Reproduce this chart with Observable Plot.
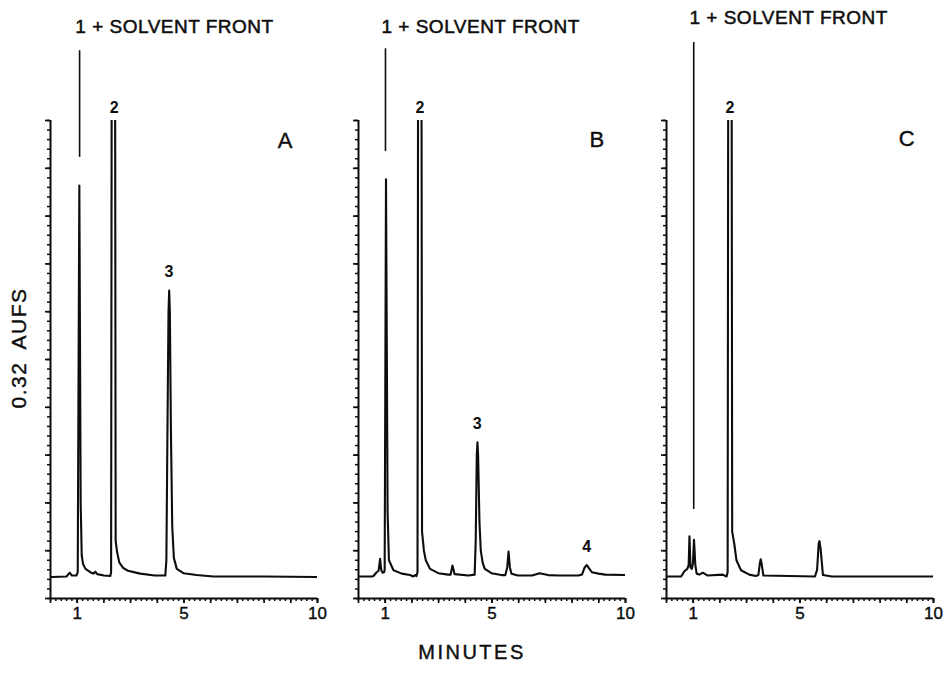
<!DOCTYPE html>
<html>
<head>
<meta charset="utf-8">
<script src="https://cdn.jsdelivr.net/npm/d3@7"></script>
<script src="https://cdn.jsdelivr.net/npm/@observablehq/plot@0.6"></script>
<style>
  html, body { margin: 0; padding: 0; background: #fff; }
  #chart { width: 945px; height: 685px; }
</style>
</head>
<body>
<div id="chart"></div>
<script>
// ---- data (minutes, detector response in % of full scale) ----
const panels = ["A", "B", "C"];

const traceA = [
  [0.05, 4.5], [0.6, 4.6], [0.72, 5.4], [0.8, 4.8], [0.97, 4.8], [1.02, 5.5], [1.08, 86.4],
  [1.13, 20], [1.17, 9], [1.22, 7.2], [1.31, 6.2], [1.49, 5.5], [1.6, 5.2], [1.68, 5.6],
  [1.75, 5.1], [2.0, 4.8], [2.24, 4.7], [2.27, 5.5], [2.355, 420], [2.44, 12], [2.5, 9.5],
  [2.58, 7.5], [2.72, 6.4], [2.9, 5.8], [3.36, 5.2], [3.9, 4.8], [4.30, 4.8], [4.34, 8],
  [4.38, 35], [4.42, 60], [4.445, 64.4], [4.47, 60], [4.51, 35], [4.56, 15], [4.62, 8.5],
  [4.73, 6.2], [4.98, 5.3], [5.47, 4.9], [6.1, 4.6], [8.0, 4.6], [10, 4.5]
];

const traceB = [
  [0.0, 4.6], [0.5, 4.6], [0.56, 4.7], [0.68, 5.5], [0.75, 5.8], [0.81, 8.3], [0.85, 6.0],
  [0.9, 5.4], [0.96, 5.5], [0.98, 6.0], [1.03, 87.7], [1.09, 18], [1.14, 8], [1.31, 5.9],
  [1.62, 5.2], [1.93, 4.9], [2.05, 4.6], [2.12, 4.9], [2.17, 4.7], [2.21, 5.5], [2.295, 420],
  [2.38, 14], [2.45, 10], [2.52, 8], [2.68, 6.2], [2.99, 5.3], [3.36, 5.0], [3.45, 5.0],
  [3.52, 6.9], [3.6, 5.1], [4.12, 4.8], [4.35, 5.0], [4.39, 12], [4.43, 30], [4.455, 32.7],
  [4.48, 30], [4.53, 16], [4.58, 10], [4.65, 7.5], [4.73, 6.2], [4.98, 5.3], [5.35, 4.9],
  [5.5, 4.9], [5.57, 6.5], [5.62, 9.8], [5.67, 6.5], [5.73, 5.2], [5.97, 4.8], [6.5, 4.8],
  [6.78, 5.3], [7.1, 4.9], [7.5, 4.8], [8.24, 4.8], [8.37, 5.0], [8.47, 6.5], [8.55, 7.0],
  [8.65, 6.2], [8.74, 5.5], [8.99, 5.2], [9.24, 5.0], [10, 4.9]
];

const traceC = [
  [0.04, 4.6], [0.55, 4.6], [0.67, 5.7], [0.78, 6.2], [0.83, 7], [0.86, 13], [0.9, 6.5],
  [0.95, 6.2], [0.99, 7.3], [1.03, 12.3], [1.08, 7], [1.13, 5.2], [1.23, 5.0], [1.36, 5.4],
  [1.54, 4.8], [2.1, 5.0], [2.25, 4.6], [2.29, 5.5], [2.375, 420], [2.46, 14], [2.54, 11.4],
  [2.62, 8], [2.79, 5.9], [3.1, 5.0], [3.35, 4.7], [3.44, 4.9], [3.5, 7.5], [3.53, 8.2],
  [3.57, 7], [3.63, 4.8], [5.56, 4.6], [5.64, 6], [5.70, 11.5], [5.73, 12], [5.77, 10.5],
  [5.86, 4.9], [6.2, 4.6], [10, 4.6]
];

// solvent-front marker lines
const markerTime = [1.09, 1.01, 1.02];
const markerLow  = [92.3, 93.5, 18.6];
const markerHigh = [114.6, 115, 116.3];

// "1 + SOLVENT FRONT" annotations
const frontText  = "1 + SOLVENT FRONT";
const frontTime  = [0.93, 0.86, 0.86];
const frontLevel = [119.5, 119.5, 121.5];

// peak number labels
const peakPanel = ["A", "A", "B", "B", "B", "C"];
const peakText  = ["2", "3", "2", "3", "4", "2"];
const peakTime  = [2.39, 4.44, 2.30, 4.45, 8.55, 2.38];
const peakLevel = [102.7, 68.4, 102.7, 36.6, 10.9, 102.7];

// panel letters
const letterTime  = [8.79, 8.93, 9.0];
const letterLevel = [95.8, 96.0, 96.2];

const xTickLabels = [1, 5, 10];
const yTitle = "0.32 AUFS";
const xTitle = "MINUTES";

// ---- build tables ----
const traces = [["A", traceA], ["B", traceB], ["C", traceC]]
  .flatMap(([p, tr]) => tr.map(([t, v]) => ({panel: p, t, v})));
const markers = panels.map((p, i) => ({panel: p, t: markerTime[i], lo: markerLow[i], hi: markerHigh[i]}));
const fronts = panels.map((p, i) => ({panel: p, t: frontTime[i], v: frontLevel[i], text: frontText}));
const peaks = peakPanel.map((p, i) => ({panel: p, t: peakTime[i], v: peakLevel[i], text: peakText[i]}));
const letters = panels.map((p, i) => ({panel: p, t: letterTime[i], v: letterLevel[i], text: p}));

const minorX = d3.range(0, 10.001, 0.2);
const minuteX = d3.range(0, 11, 1);
const minorY = d3.range(0, 100.001, 2);
const majorY = d3.range(0, 101, 10);

const font = "'Liberation Sans', Arial, Helvetica, sans-serif";
const ink = "#0d0d0d";

const chart = Plot.plot({
  width: 945,
  height: 685,
  marginLeft: 50,
  marginRight: 11,
  marginTop: 120,
  marginBottom: 87,
  style: {fontFamily: font, color: ink, background: "#fff", overflow: "visible"},
  fx: {domain: panels, paddingInner: 0.1322, paddingOuter: 0, axis: null, label: null},
  x: {domain: [0, 10]},
  y: {domain: [0, 100]},
  marks: [
    Plot.axisX({ticks: minorX, tickSize: 3, fill: "none", strokeWidth: 1.5, facetAnchor: null, label: null}),
    Plot.axisX({ticks: minuteX, tickSize: 5, fill: "none", strokeWidth: 1.7, facetAnchor: null, label: null}),
    Plot.axisX({ticks: xTickLabels, tickSize: 5, tickPadding: 3, fontSize: 17, strokeWidth: 1.7,
                textStroke: ink, textStrokeWidth: 0.4, facetAnchor: null, label: null}),
    Plot.axisY({ticks: minorY, tickSize: 3, fill: "none", strokeWidth: 1.5, facetAnchor: null, label: null}),
    Plot.axisY({ticks: majorY, tickSize: 5, fill: "none", strokeWidth: 1.7, facetAnchor: null, label: null}),
    Plot.ruleY([0], {stroke: ink, strokeWidth: 2}),
    Plot.ruleX([0], {stroke: ink, strokeWidth: 2}),
    Plot.line(traces, {x: "t", y: "v", fx: "panel", stroke: ink, strokeWidth: 2.1, clip: true}),
    Plot.ruleX(markers, {x: "t", y1: "lo", y2: "hi", fx: "panel", stroke: ink, strokeWidth: 1.6}),
    Plot.text(fronts, {x: "t", y: "v", fx: "panel", text: "text", textAnchor: "start", fontSize: 19,
                       fill: ink, stroke: ink, strokeWidth: 0.5}),
    Plot.text(peaks, {x: "t", y: "v", fx: "panel", text: "text", fontSize: 16, fontWeight: "bold", fill: ink}),
    Plot.text(letters, {x: "t", y: "v", fx: "panel", text: "text", fontSize: 22, fill: ink, stroke: ink, strokeWidth: 0.4})
  ]
});

const svg = d3.select(chart);
svg.selectAll("text").filter(function() { return this.textContent === frontText; })
  .attr("letter-spacing", "0.5px");

svg.append("text")
  .attr("transform", "translate(18,348) rotate(-90)")
  .attr("text-anchor", "middle")
  .attr("dominant-baseline", "central")
  .attr("font-family", font)
  .attr("font-size", 21)
  .attr("letter-spacing", "1.5px")
  .attr("word-spacing", "6px")
  .attr("fill", ink)
  .attr("stroke", ink)
  .attr("stroke-width", 0.4)
  .text(yTitle);

svg.append("text")
  .attr("x", 472)
  .attr("y", 652)
  .attr("text-anchor", "middle")
  .attr("dominant-baseline", "central")
  .attr("font-family", font)
  .attr("font-size", 20)
  .attr("letter-spacing", "2.5px")
  .attr("fill", ink)
  .attr("stroke", ink)
  .attr("stroke-width", 0.4)
  .text(xTitle);

document.getElementById("chart").appendChild(chart);
</script>
</body>
</html>
